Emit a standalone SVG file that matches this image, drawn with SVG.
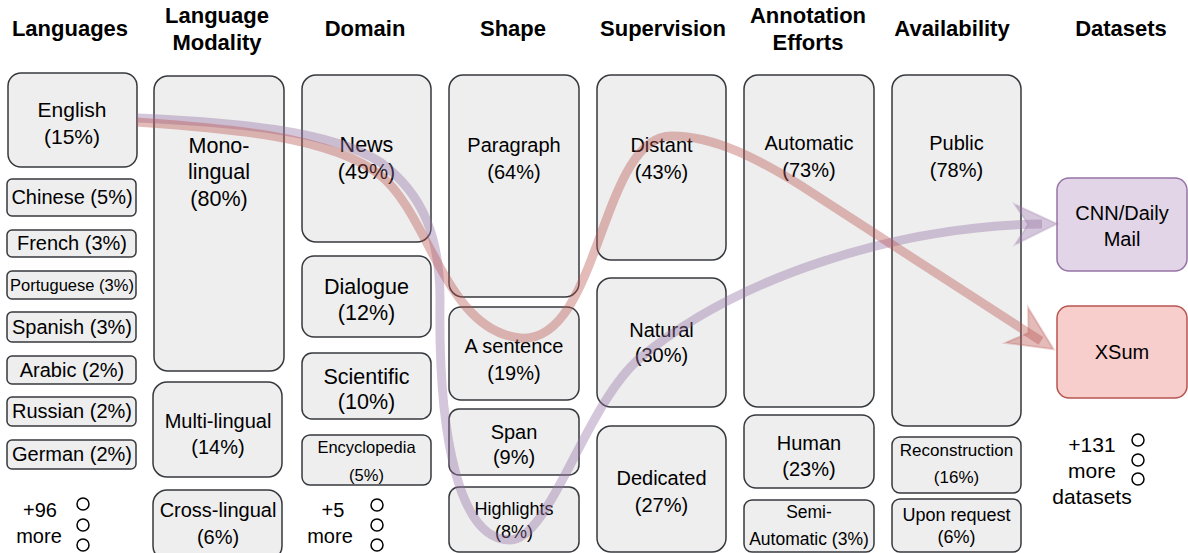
<svg xmlns="http://www.w3.org/2000/svg" width="1188" height="553" viewBox="0 0 1188 553">
<defs>
<style>
.b{fill:#eeeeee;stroke:#36393d;stroke-width:1.5}
.t{font-family:"Liberation Sans",Arial,sans-serif;font-size:20px;fill:#000;text-anchor:middle}
.h{font-family:"Liberation Sans",Arial,sans-serif;font-size:22px;font-weight:bold;fill:#000;text-anchor:middle}
.c{fill:none;stroke:#000;stroke-width:1.5}
.lnk{fill:none;stroke-width:9;stroke-opacity:0.4}
</style>
<marker id="arP" markerUnits="userSpaceOnUse" markerWidth="70" markerHeight="60" viewBox="-50 -30 70 60" refX="-15" refY="0" orient="auto">
<path d="M0,0 L-42,-20 L-29,0 L-42,20 Z" fill="#9673a6" fill-opacity="0.4" stroke="#9673a6" stroke-opacity="0.25" stroke-width="2" stroke-linejoin="miter"/>
</marker>
<marker id="arR" markerUnits="userSpaceOnUse" markerWidth="70" markerHeight="60" viewBox="-50 -30 70 60" refX="-15" refY="0" orient="auto">
<path d="M0,0 L-44,-21 L-30,0 L-44,21 Z" fill="#b85450" fill-opacity="0.4" stroke="#b85450" stroke-opacity="0.25" stroke-width="2" stroke-linejoin="miter"/>
</marker>
</defs>
<rect width="1188" height="553" fill="#ffffff"/>

<g id="headers">
<text class="h" x="70" y="36">Languages</text>
<text class="h" x="217" y="23">Language</text>
<text class="h" x="217" y="50">Modality</text>
<text class="h" x="365" y="36">Domain</text>
<text class="h" x="513" y="36">Shape</text>
<text class="h" x="663" y="36">Supervision</text>
<text class="h" x="808" y="23">Annotation</text>
<text class="h" x="808" y="50">Efforts</text>
<text class="h" x="952" y="36">Availability</text>
<text class="h" x="1121" y="36">Datasets</text>
</g>

<g id="english"><rect class="b" x="8" y="73" width="129" height="94" rx="13"/><text class="t" style="font-size:21px" x="72" y="117">English</text><text class="t" style="font-size:21px" x="72" y="144">(15%)</text></g>
<g id="chinese"><rect class="b" x="7" y="179" width="129" height="37" rx="5"/><text class="t" x="72" y="204">Chinese (5%)</text></g>
<g id="french"><rect class="b" x="7" y="230" width="129" height="27" rx="5"/><text class="t" x="72" y="250">French (3%)</text></g>
<g id="portuguese"><rect class="b" x="7" y="271" width="129" height="28" rx="5"/><text class="t" style="font-size:16.5px" x="72" y="291">Portuguese (3%)</text></g>
<g id="spanish"><rect class="b" x="7" y="312" width="129" height="30" rx="5"/><text class="t" x="72" y="334">Spanish (3%)</text></g>
<g id="arabic"><rect class="b" x="7" y="356" width="129" height="28" rx="5"/><text class="t" x="72" y="377">Arabic (2%)</text></g>
<g id="russian"><rect class="b" x="7" y="397" width="129" height="29" rx="5"/><text class="t" x="72" y="418">Russian (2%)</text></g>
<g id="german"><rect class="b" x="7" y="440" width="129" height="29" rx="5"/><text class="t" x="72" y="461">German (2%)</text></g>
<g id="more-languages"><text class="t" x="40" y="517">+96</text><text class="t" x="39" y="543">more</text><circle class="c" cx="83" cy="504" r="6"/><circle class="c" cx="83" cy="525" r="6"/><circle class="c" cx="83" cy="545" r="6"/></g>

<g id="monolingual"><rect class="b" x="154" y="76" width="130" height="295" rx="14"/><text class="t" style="font-size:21.5px" x="219" y="153">Mono-</text><text class="t" style="font-size:21.5px" x="219" y="179">lingual</text><text class="t" style="font-size:21.5px" x="219" y="206">(80%)</text></g>
<g id="multilingual"><rect class="b" x="153" y="382" width="129" height="95" rx="14"/><text class="t" x="218" y="428">Multi-lingual</text><text class="t" x="218" y="454">(14%)</text></g>
<g id="crosslingual"><rect class="b" x="153" y="490" width="129" height="70" rx="14"/><text class="t" x="218" y="517">Cross-lingual</text><text class="t" x="218" y="544">(6%)</text></g>

<g id="news"><rect class="b" x="302" y="75" width="129" height="167" rx="14"/><text class="t" style="font-size:21.5px" x="366.5" y="152">News</text><text class="t" style="font-size:21.5px" x="366.5" y="179">(49%)</text></g>
<g id="dialogue"><rect class="b" x="302" y="256" width="129" height="81" rx="12"/><text class="t" style="font-size:21.5px" x="366.5" y="294">Dialogue</text><text class="t" style="font-size:21.5px" x="366.5" y="320">(12%)</text></g>
<g id="scientific"><rect class="b" x="302" y="353" width="129" height="66" rx="10"/><text class="t" style="font-size:21.5px" x="366.5" y="384">Scientific</text><text class="t" style="font-size:21.5px" x="366.5" y="409">(10%)</text></g>
<g id="encyclopedia"><rect class="b" x="302" y="435" width="129" height="50" rx="8"/><text class="t" style="font-size:16.5px" x="366.5" y="453">Encyclopedia</text><text class="t" style="font-size:16.5px" x="366.5" y="481">(5%)</text></g>
<g id="more-domains"><text class="t" x="333" y="517">+5</text><text class="t" x="330" y="543">more</text><circle class="c" cx="377" cy="505" r="6"/><circle class="c" cx="377" cy="525" r="6"/><circle class="c" cx="377" cy="545" r="6"/></g>

<g id="paragraph"><rect class="b" x="449" y="75" width="130" height="222" rx="14"/><text class="t" x="514" y="152">Paragraph</text><text class="t" x="514" y="179">(64%)</text></g>
<g id="sentence"><rect class="b" x="449" y="307" width="130" height="93" rx="12"/><text class="t" x="514" y="353">A sentence</text><text class="t" x="514" y="380">(19%)</text></g>
<g id="span"><rect class="b" x="449" y="409" width="130" height="66" rx="10"/><text class="t" x="514" y="439">Span</text><text class="t" x="514" y="464">(9%)</text></g>
<g id="highlights"><rect class="b" x="449" y="487" width="130" height="65" rx="10"/><text class="t" style="font-size:18px" x="514" y="515">Highlights</text><text class="t" style="font-size:18px" x="514" y="538">(8%)</text></g>

<g id="distant"><rect class="b" x="597" y="75" width="129" height="185" rx="14"/><text class="t" x="661.5" y="152">Distant</text><text class="t" x="661.5" y="179">(43%)</text></g>
<g id="natural"><rect class="b" x="597" y="278" width="129" height="129" rx="14"/><text class="t" x="661.5" y="337">Natural</text><text class="t" x="661.5" y="362">(30%)</text></g>
<g id="dedicated"><rect class="b" x="597" y="426" width="129" height="126" rx="14"/><text class="t" x="661.5" y="485">Dedicated</text><text class="t" x="661.5" y="512">(27%)</text></g>

<g id="automatic"><rect class="b" x="744" y="75" width="130" height="332" rx="14"/><text class="t" x="809" y="150">Automatic</text><text class="t" x="809" y="177">(73%)</text></g>
<g id="human"><rect class="b" x="744" y="415" width="130" height="73" rx="12"/><text class="t" x="809" y="450">Human</text><text class="t" x="809" y="476">(23%)</text></g>
<g id="semiautomatic"><rect class="b" x="744" y="500" width="130" height="52" rx="8"/><text class="t" style="font-size:17.5px" x="809" y="518">Semi-</text><text class="t" style="font-size:17.5px" x="809" y="545">Automatic (3%)</text></g>

<g id="public"><rect class="b" x="892" y="75" width="129" height="351" rx="14"/><text class="t" x="956.5" y="150">Public</text><text class="t" x="956.5" y="177">(78%)</text></g>
<g id="reconstruction"><rect class="b" x="892" y="437" width="129" height="56" rx="8"/><text class="t" style="font-size:17px" x="956.5" y="456">Reconstruction</text><text class="t" style="font-size:17px" x="956.5" y="483">(16%)</text></g>
<g id="uponrequest"><rect class="b" x="892" y="499" width="129" height="53" rx="8"/><text class="t" style="font-size:18px" x="956.5" y="521">Upon request</text><text class="t" style="font-size:18px" x="956.5" y="543">(6%)</text></g>

<g id="cnndm"><rect x="1057" y="178" width="130" height="93" rx="12" fill="#e1d5e7" stroke="#9673a6" stroke-width="1.5"/><text class="t" x="1122" y="220">CNN/Daily</text><text class="t" x="1122" y="246">Mail</text></g>
<g id="xsum"><rect x="1057" y="306" width="130" height="92" rx="12" fill="#f8cecc" stroke="#b85450" stroke-width="1.5"/><text class="t" x="1122" y="359">XSum</text></g>
<g id="more-datasets"><text class="t" style="font-size:21px" x="1092" y="452">+131</text><text class="t" style="font-size:21px" x="1092" y="478">more</text><text class="t" style="font-size:21px" x="1092" y="504">datasets</text><circle class="c" cx="1138" cy="440" r="6"/><circle class="c" cx="1138" cy="460" r="6"/><circle class="c" cx="1138" cy="479" r="6"/></g>

<g id="connectors">
<path class="lnk" stroke="#9673a6" marker-end="url(#arP)" d="M137,118 C230,122 330,130 380,162 C425,195 440,240 440,300 C438,440 460,540 510,540 C550,540 585,405 640,358 C740,275 900,226 1042,224"/>
<path class="lnk" stroke="#b85450" marker-end="url(#arR)" d="M137,122 C220,128 330,135 380,175 C430,215 445,330 520,338 C600,345 600,135 672,136 C715,136 760,160 800,185 L1041,341"/>
</g>
</svg>
